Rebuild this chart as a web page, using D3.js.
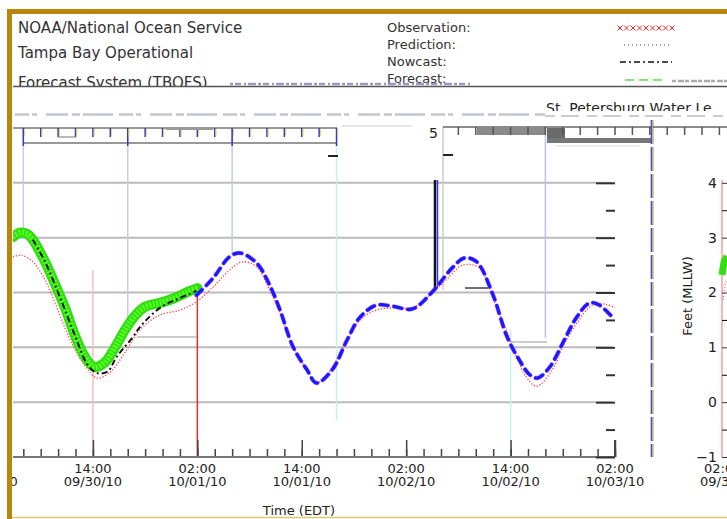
<!DOCTYPE html>
<html>
<head>
<meta charset="utf-8">
<script src="https://cdn.jsdelivr.net/npm/d3@7"></script>
<style>
  body { margin: 0; background: #fff; }
  svg { display: block; }
  text { font-family: "DejaVu Sans", sans-serif; }
</style>
</head>
<body>
<div id="chart"></div>
<script>
// hours after 09/30/10 02:00 EDT, water level in feet (MLLW)
const obsHours = [2.8, 3.6, 4.4, 5.1, 6.5, 7.6, 8.8, 9.9, 11.1, 12.2, 13.4, 14.5, 15.7, 16.8, 18.0, 19.7, 21.4, 22.9, 24.0];
const obsFeet  = [3.01, 3.09, 3.07, 2.96, 2.56, 2.17, 1.72, 1.23, 0.82, 0.64, 0.73, 0.99, 1.32, 1.57, 1.74, 1.81, 1.90, 2.01, 2.08];

const nowHours = [5.1, 6.5, 8.2, 9.9, 11.4, 12.5, 13.7, 14.7, 16.6, 17.4, 19.7, 22.0, 23.9];
const nowFeet  = [2.96, 2.56, 1.92, 1.23, 0.68, 0.53, 0.56, 0.82, 1.19, 1.37, 1.72, 1.90, 2.03];

const redHours = [2.8, 3.8, 5.1, 6.5, 7.6, 9.4, 11.1, 12.5, 14.0, 15.7, 17.4, 19.7, 22.0, 23.9, 25.8, 27.7, 29.2, 30.8, 32.3, 33.5, 35.0, 36.6, 37.7, 39.2, 41.2, 42.7, 44.6, 46.9, 48.7, 51.0, 52.6, 54.5, 56.4, 57.9, 59.5, 60.7, 61.8, 63.0, 64.8, 66.0, 67.6, 69.4, 70.8, 72.0];
const redFeet  = [2.65, 2.68, 2.56, 2.23, 1.83, 1.13, 0.66, 0.44, 0.55, 0.91, 1.32, 1.59, 1.68, 1.83, 2.10, 2.41, 2.56, 2.47, 2.05, 1.63, 1.01, 0.59, 0.35, 0.57, 1.13, 1.50, 1.68, 1.72, 1.72, 1.99, 2.23, 2.50, 2.45, 1.92, 1.32, 0.82, 0.46, 0.29, 0.59, 1.01, 1.44, 1.77, 1.79, 1.72];

const predHours = [23.9, 25.8, 27.7, 28.9, 30.8, 32.3, 33.5, 35.0, 36.6, 37.7, 39.5, 41.2, 42.7, 44.6, 46.4, 48.7, 51.0, 53.3, 54.7, 56.1, 57.9, 59.6, 61.0, 62.2, 63.1, 64.5, 66.0, 67.6, 69.1, 70.2, 71.7];
const predFeet  = [1.95, 2.26, 2.65, 2.72, 2.54, 2.14, 1.68, 1.01, 0.59, 0.35, 0.59, 1.13, 1.55, 1.77, 1.75, 1.70, 2.01, 2.45, 2.63, 2.56, 1.99, 1.19, 0.77, 0.50, 0.44, 0.64, 1.08, 1.55, 1.81, 1.77, 1.55];

const timeLabels = [["02:00", "09/30/10"], ["14:00", "09/30/10"], ["02:00", "10/01/10"], ["14:00", "10/01/10"], ["02:00", "10/02/10"], ["14:00", "10/02/10"], ["02:00", "10/03/10"]];
const feetTicks = [-1, 0, 1, 2, 3, 4];
const legendNames = ["Observation:", "Prediction:", "Nowcast:", "Forecast:"];
const titleLines = ["NOAA/National Ocean Service", "Tampa Bay Operational", "Forecast System (TBOFS)"];

const W = 727, H = 519;
const base = new Date(2010, 8, 30, 2);
const hr = h => new Date(base.getTime() + h * 3600e3);

const svg = d3.select("#chart").append("svg")
    .attr("width", W).attr("height", H);
svg.append("rect").attr("width", W).attr("height", H).attr("fill", "#fff");

const x = d3.scaleTime().domain([hr(0), hr(72)]).range([-11.5, 615]);
const y = d3.scaleLinear().domain([-1, 5]).range([457, 128]);

svg.append("clipPath").attr("id", "plot")
  .append("rect").attr("x", 13).attr("y", 127).attr("width", 602).attr("height", 330);

// horizontal grid
svg.append("g").selectAll("line")
  .data(feetTicks.slice(1))
  .enter().append("line")
    .attr("x1", 13).attr("x2", 612)
    .attr("y1", d => y(d)).attr("y2", d => y(d))
    .attr("stroke", "#bbb").attr("stroke-width", 2);

// stray vertical lines of the picture
const vlines = [[4, 127, 230, "#c8c8f0"], [16, 127, 325, "#c8c8f0"], [28, 127, 255, "#c8c8f0"],
                [40, 127, 420, "#c8f0e8"], [12, 270, 457, "#f4c0c0"], [24, 288, 457, "#e03030"],
                [60, 330, 457, "#c8f0f0"], [64, 127, 338, "#c0c0ee"]];
svg.append("g").selectAll("line")
  .data(vlines)
  .enter().append("line")
    .attr("x1", d => x(hr(d[0]))).attr("x2", d => x(hr(d[0])))
    .attr("y1", d => d[1]).attr("y2", d => d[2])
    .attr("stroke", d => d[3]).attr("stroke-width", 1.5);

svg.append("line").attr("x1", 137).attr("x2", 197).attr("y1", 337).attr("y2", 337).attr("stroke", "#999");
svg.append("line").attr("x1", 511).attr("x2", 547).attr("y1", 342).attr("y2", 342).attr("stroke", "#999");
svg.append("line").attr("x1", 443).attr("x2", 443).attr("y1", 127).attr("y2", 290).attr("stroke", "#ccc").attr("stroke-width", 1.5);
svg.append("line").attr("x1", 435).attr("x2", 435).attr("y1", 180).attr("y2", 288).attr("stroke", "#111").attr("stroke-width", 2.5);
svg.append("line").attr("x1", 437.5).attr("x2", 437.5).attr("y1", 180).attr("y2", 288).attr("stroke", "#3030ff").attr("stroke-width", 1.5);
svg.append("line").attr("x1", 465).attr("x2", 488).attr("y1", 288).attr("y2", 288).attr("stroke", "#111").attr("stroke-width", 1.2);

// curves
const line = d3.line()
    .x(d => x(hr(d[0])))
    .y(d => y(d[1]))
    .curve(d3.curveCatmullRom);

const plot = svg.append("g").attr("clip-path", "url(#plot)");

plot.append("path")
    .attr("d", line(d3.zip(redHours, redFeet)))
    .attr("fill", "none").attr("stroke", "#ff3b3b")
    .attr("stroke-width", 1.3).attr("stroke-dasharray", "1.2,1.8");

plot.append("path")
    .attr("d", line(d3.zip(obsHours, obsFeet)))
    .attr("fill", "none").attr("stroke", "#2fdc10")
    .attr("stroke-width", 10).attr("stroke-linejoin", "round").attr("stroke-linecap", "round");
plot.append("path")
    .attr("d", line(d3.zip(obsHours, obsFeet)))
    .attr("fill", "none").attr("stroke", "#55ff22")
    .attr("stroke-width", 6).attr("stroke-dasharray", "2,1.5");

plot.append("path")
    .attr("d", line(d3.zip(nowHours, nowFeet)))
    .attr("fill", "none").attr("stroke", "#111")
    .attr("stroke-width", 2).attr("stroke-dasharray", "6,3,2,3");

plot.append("path")
    .attr("d", line(d3.zip(predHours, predFeet)))
    .attr("fill", "none").attr("stroke", "#c040ff").attr("stroke-opacity", 0.45)
    .attr("stroke-width", 4.6).attr("stroke-dasharray", "8,6").attr("stroke-linecap", "round");
plot.append("path")
    .attr("d", line(d3.zip(predHours, predFeet)))
    .attr("fill", "none").attr("stroke", "#1a1aff")
    .attr("stroke-width", 3.4).attr("stroke-dasharray", "8,6").attr("stroke-linecap", "round");

// bottom axis
const minor = d3.timeHour.every(2).range(hr(4), hr(72.1));
const xMinor = svg.append("g").attr("transform", "translate(0,457)")
    .call(d3.axisBottom(x).tickValues(minor).tickSize(-8).tickFormat(""));
const xMajor = svg.append("g").attr("transform", "translate(0,457)")
    .call(d3.axisBottom(x).tickValues(timeLabels.map((d, i) => hr(i * 12))).tickSize(-17).tickFormat(""));
[xMinor, xMajor].forEach(g => {
  g.select(".domain").remove();
  g.selectAll("line").attr("stroke", "#444").attr("stroke-width", 1.5);
});
svg.append("line").attr("x1", 13).attr("x2", 615).attr("y1", 457).attr("y2", 457)
    .attr("stroke", "#777").attr("stroke-width", 2);

const xl = svg.append("g").selectAll("text")
  .data(timeLabels)
  .enter().append("text")
    .attr("x", (d, i) => x(hr(i * 12)))
    .attr("text-anchor", "middle")
    .attr("font-size", 13).attr("fill", "#222");
xl.append("tspan").attr("y", 473).attr("x", (d, i) => x(hr(i * 12))).text(d => d[0]);
xl.append("tspan").attr("y", 486).attr("x", (d, i) => x(hr(i * 12))).text(d => d[1]);

svg.append("text").attr("x", 299).attr("y", 515).attr("text-anchor", "middle")
    .attr("font-size", 13).attr("fill", "#222").text("Time (EDT)");

// ticks on right edge of plot
const halfTicks = feetTicks.map(d => d + 0.5).slice(0, 5);
const yMaj = svg.append("g").attr("transform", "translate(615,0)")
    .call(d3.axisRight(y).tickValues(feetTicks).tickSize(-19).tickFormat(""));
const yMin = svg.append("g").attr("transform", "translate(615,0)")
    .call(d3.axisRight(y).tickValues(halfTicks).tickSize(-9).tickFormat(""));
[yMaj, yMin].forEach(g => {
  g.select(".domain").remove();
  g.selectAll("line").attr("stroke", "#333").attr("stroke-width", 2);
});
svg.append("line").attr("x1", 615).attr("x2", 615).attr("y1", 440).attr("y2", 457).attr("stroke", "#444").attr("stroke-width", 2);

// top ruler, left part
const rulerL = d3.timeHour.every(2).range(hr(4), hr(40.1));
svg.append("line").attr("x1", 13).attr("x2", 337).attr("y1", 128).attr("y2", 128).attr("stroke", "#777").attr("stroke-width", 1.5);
svg.append("line").attr("x1", 23).attr("x2", 337).attr("y1", 143).attr("y2", 143).attr("stroke", "#777").attr("stroke-width", 1.5);
svg.append("g").selectAll("line")
  .data(rulerL)
  .enter().append("line")
    .attr("x1", d => x(d)).attr("x2", d => x(d))
    .attr("y1", 128).attr("y2", (d, i) => i % 6 === 0 ? 146 : 137)
    .attr("stroke", "#3838d0").attr("stroke-width", 1.5);
svg.append("g").selectAll("line")
  .data(rulerL)
  .enter().append("line")
    .attr("x1", d => x(d) + 1.3).attr("x2", d => x(d) + 1.3)
    .attr("y1", 129).attr("y2", 136)
    .attr("stroke", "#e8e030").attr("stroke-width", 1);
svg.append("line").attr("x1", 58).attr("x2", 76).attr("y1", 137).attr("y2", 137).attr("stroke", "#777");
svg.append("line").attr("x1", 166).attr("x2", 213).attr("y1", 129).attr("y2", 129).attr("stroke", "#999").attr("stroke-width", 2);
svg.append("line").attr("x1", 328).attr("x2", 338).attr("y1", 156).attr("y2", 156).attr("stroke", "#222").attr("stroke-width", 2);
svg.append("line").attr("x1", 342).attr("x2", 412).attr("y1", 126).attr("y2", 126).attr("stroke", "#ddd").attr("stroke-width", 1.5);

// top ruler, right part
const rulerR = d3.timeHour.every(2).range(hr(54), hr(86.1));
svg.append("line").attr("x1", 443).attr("x2", 727).attr("y1", 127).attr("y2", 127).attr("stroke", "#666").attr("stroke-width", 1.5);
svg.append("rect").attr("x", 477).attr("y", 128).attr("width", 68).attr("height", 7).attr("fill", "#8a8a8a");
svg.append("rect").attr("x", 547).attr("y", 128).attr("width", 18).attr("height", 14).attr("fill", "#6a6a6a");
svg.append("rect").attr("x", 547).attr("y", 138).attr("width", 105).attr("height", 5).attr("fill", "#777");
svg.append("line").attr("x1", 555).attr("x2", 640).attr("y1", 146).attr("y2", 146).attr("stroke", "#ddd");
svg.append("g").selectAll("line")
  .data(rulerR)
  .enter().append("line")
    .attr("x1", d => x(d)).attr("x2", d => x(d))
    .attr("y1", 127).attr("y2", 135)
    .attr("stroke", "#555").attr("stroke-width", 1.5);
svg.append("line").attr("x1", 443).attr("x2", 453).attr("y1", 155).attr("y2", 155).attr("stroke", "#222").attr("stroke-width", 2);
svg.append("text").attr("x", 438).attr("y", 138).attr("text-anchor", "end")
    .attr("font-size", 14).attr("fill", "#222").text("5");

// dashed separator
svg.append("line").attr("x1", 652).attr("x2", 652).attr("y1", 120).attr("y2", 457)
    .attr("stroke", "#2828e0").attr("stroke-width", 2.6).attr("stroke-dasharray", "24,3");
svg.append("line").attr("x1", 652.3).attr("x2", 652.3).attr("y1", 120).attr("y2", 457)
    .attr("stroke", "#f0e020").attr("stroke-width", 1).attr("stroke-dasharray", "24,3");

// right-hand panel
const yR = svg.append("g").attr("transform", "translate(722,0)")
    .call(d3.axisLeft(y).tickValues(feetTicks).tickSize(-5).tickPadding(5).tickFormat(d3.format("d")));
svg.append("g").attr("transform", "translate(722,0)")
    .call(d3.axisLeft(y).tickValues(halfTicks).tickSize(-5).tickFormat(""))
    .select(".domain").remove();
yR.select(".domain").attr("d", "M0,180V457").attr("stroke", "#f0a0a0").attr("stroke-width", 1.5);
yR.selectAll("line").attr("stroke", "#333");
yR.selectAll("text").attr("font-family", "Liberation Sans, sans-serif").attr("font-size", 14).attr("fill", "#222");
svg.append("text").attr("transform", "translate(692,296) rotate(-90)")
    .attr("text-anchor", "middle").attr("font-family", "Liberation Sans, sans-serif")
    .attr("font-size", 13).attr("fill", "#222").text("Feet (MLLW)");
svg.append("path").attr("d", d3.line()([[722, 275], [724, 262], [727, 256]]))
    .attr("fill", "none").attr("stroke", "#33e010").attr("stroke-width", 7);
svg.append("path").attr("d", d3.line()([[723, 300], [725, 285], [727, 280]]))
    .attr("fill", "none").attr("stroke", "#ff4040").attr("stroke-dasharray", "1,2");
svg.append("text").attr("x", 704).attr("y", 473).attr("font-size", 13).attr("fill", "#222").text("02:0");
svg.append("text").attr("x", 700).attr("y", 486).attr("font-size", 13).attr("fill", "#222").text("09/30");

// header
svg.append("clipPath").attr("id", "head")
  .append("rect").attr("x", 0).attr("y", 0).attr("width", W).attr("height", 86);
svg.append("g").attr("clip-path", "url(#head)").selectAll("text")
  .data(titleLines)
  .enter().append("text")
    .attr("x", 18).attr("y", (d, i) => [33, 58, 88][i])
    .attr("font-size", 15).attr("fill", "#333").text(d => d);

svg.append("g").selectAll("text")
  .data(legendNames)
  .enter().append("text")
    .attr("x", 387).attr("y", (d, i) => 32 + i * 17)
    .attr("font-size", 13).attr("fill", "#333").text(d => d);

const symX = d3.range(620, 676, 6.5);
svg.append("g").selectAll("path")
  .data(symX)
  .enter().append("path")
    .attr("transform", d => `translate(${d},28)`)
    .attr("d", d3.symbol(d3.symbolTimes, 18))
    .attr("fill", "none").attr("stroke", "#ff2020").attr("stroke-width", 1);
svg.append("line").attr("x1", 624).attr("x2", 672).attr("y1", 45).attr("y2", 45)
    .attr("stroke", "#3030ff").attr("stroke-dasharray", "1,3");
svg.append("line").attr("x1", 620).attr("x2", 672).attr("y1", 62).attr("y2", 62)
    .attr("stroke", "#111").attr("stroke-width", 1.5).attr("stroke-dasharray", "6,3,2,3");
svg.append("line").attr("x1", 625).attr("x2", 666).attr("y1", 80).attr("y2", 80)
    .attr("stroke", "#7ee870").attr("stroke-width", 2).attr("stroke-dasharray", "9,5");

svg.append("line").attr("x1", 13).attr("x2", 727).attr("y1", 86.5).attr("y2", 86.5)
    .attr("stroke", "#555").attr("stroke-width", 1.5);
svg.append("line").attr("x1", 230).attr("x2", 470).attr("y1", 84).attr("y2", 84)
    .attr("stroke", "#9a9ac0").attr("stroke-width", 2.5).attr("stroke-dasharray", "3,2,6,3,2,2,8,2");
svg.append("line").attr("x1", 672).attr("x2", 727).attr("y1", 81).attr("y2", 81)
    .attr("stroke", "#aaa").attr("stroke-width", 2.5).attr("stroke-dasharray", "4,2,6,1");

svg.append("text").attr("x", 546).attr("y", 113).attr("font-size", 14).attr("fill", "#222")
    .text("St. Petersburg Water Le");
svg.append("rect").attr("x", 13).attr("y", 111).attr("width", 714).attr("height", 8).attr("fill", "#fff");
svg.append("line").attr("x1", 15).attr("x2", 545).attr("y1", 114.5).attr("y2", 114.5)
    .attr("stroke", "#c4c4d0").attr("stroke-width", 2.5).attr("stroke-dasharray", "14,3,5,9,22,4,8,3,30,6");
svg.append("line").attr("x1", 545).attr("x2", 727).attr("y1", 116).attr("y2", 116)
    .attr("stroke", "#ccccd6").attr("stroke-width", 2).attr("stroke-dasharray", "10,6,18,8");

// gold frame, nothing shows to its left
svg.append("rect").attr("x", 0).attr("y", 0).attr("width", 7).attr("height", H).attr("fill", "#fff");
svg.append("rect").attr("x", 7).attr("y", 9).attr("width", 720).attr("height", 5).attr("fill", "#b8860b");
svg.append("rect").attr("x", 7).attr("y", 9).attr("width", 5).attr("height", 510).attr("fill", "#b8860b");
svg.append("line").attr("x1", 12).attr("x2", 727).attr("y1", 517.5).attr("y2", 517.5)
    .attr("stroke", "#dcc77a").attr("stroke-width", 1.5);
</script>
</body>
</html>
